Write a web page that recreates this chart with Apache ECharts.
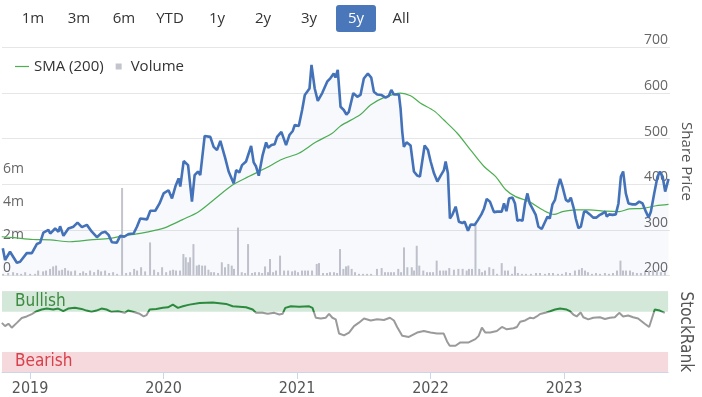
<!DOCTYPE html>
<html><head><meta charset="utf-8">
<script src="https://cdn.jsdelivr.net/npm/echarts@6/dist/echarts.min.js"></script>
<style>html,body{margin:0;padding:0;background:#fff}#c{width:702px;height:397px}</style>
</head><body><div id="c"></div><script>
// ---- data (x = decimal year) ----
const rangeButtons = ['1m','3m','6m','YTD','1y','2y','3y','5y','All'];
const selectedButton = '5y';
const yearTicks = [2019, 2020, 2021, 2022, 2023];
const xStart = 2018.79, xEnd = 2023.78;
const bullishLevel = 75, bearishLevel = 25;

const price = [[2018.796,260],[2018.813,234],[2018.850,252],[2018.901,228],[2018.925,230],[2018.975,249],[2019.013,249],[2019.050,269],[2019.075,272],[2019.099,294],[2019.137,300],[2019.150,292],[2019.187,303],[2019.212,296],[2019.224,308],[2019.249,287],[2019.286,303],[2019.324,307],[2019.354,316],[2019.387,306],[2019.424,311],[2019.461,296],[2019.499,284],[2019.536,294],[2019.561,296],[2019.586,289],[2019.611,273],[2019.648,272],[2019.673,287],[2019.703,285],[2019.735,291],[2019.773,292],[2019.798,307],[2019.823,325],[2019.873,323],[2019.898,342],[2019.935,342],[2019.967,358],[2019.997,380],[2020.010,384],[2020.034,387],[2020.060,369],[2020.085,395],[2020.109,413],[2020.122,395],[2020.147,451],[2020.180,442],[2020.209,362],[2020.229,420],[2020.254,428],[2020.271,420],[2020.304,506],[2020.346,504],[2020.371,482],[2020.396,475],[2020.421,495],[2020.458,457],[2020.483,428],[2020.521,402],[2020.539,431],[2020.563,426],[2020.583,442],[2020.613,450],[2020.651,484],[2020.670,448],[2020.688,439],[2020.708,419],[2020.737,464],[2020.763,492],[2020.778,480],[2020.803,486],[2020.827,488],[2020.845,504],[2020.877,515],[2020.912,486],[2020.937,508],[2020.962,517],[2020.977,530],[2021.007,528],[2021.032,563],[2021.052,596],[2021.087,610],[2021.102,662],[2021.126,610],[2021.149,583],[2021.182,600],[2021.219,625],[2021.244,633],[2021.268,643],[2021.281,634],[2021.298,651],[2021.319,570],[2021.343,563],[2021.363,553],[2021.381,559],[2021.414,600],[2021.444,592],[2021.468,596],[2021.493,632],[2021.523,643],[2021.548,634],[2021.568,603],[2021.593,597],[2021.623,596],[2021.655,590],[2021.680,594],[2021.698,607],[2021.717,597],[2021.755,597],[2021.767,567],[2021.780,515],[2021.792,482],[2021.812,492],[2021.842,485],[2021.867,428],[2021.892,419],[2021.912,417],[2021.947,485],[2021.972,475],[2021.992,450],[2022.017,424],[2022.042,406],[2022.067,419],[2022.091,431],[2022.104,450],[2022.121,424],[2022.136,325],[2022.154,333],[2022.179,351],[2022.203,318],[2022.229,315],[2022.246,318],[2022.271,298],[2022.291,312],[2022.321,311],[2022.346,322],[2022.371,334],[2022.391,347],[2022.411,368],[2022.435,362],[2022.465,339],[2022.491,340],[2022.523,340],[2022.540,358],[2022.558,341],[2022.577,369],[2022.603,371],[2022.622,358],[2022.640,320],[2022.657,322],[2022.678,320],[2022.697,358],[2022.715,380],[2022.732,358],[2022.752,347],[2022.777,333],[2022.797,307],[2022.822,302],[2022.847,318],[2022.865,329],[2022.882,325],[2022.902,356],[2022.921,366],[2022.939,391],[2022.959,412],[2022.977,395],[2023.002,366],[2023.022,362],[2023.039,371],[2023.064,344],[2023.076,325],[2023.096,304],[2023.114,307],[2023.138,340],[2023.156,340],[2023.181,334],[2023.206,327],[2023.231,327],[2023.256,333],[2023.276,336],[2023.296,340],[2023.308,329],[2023.325,334],[2023.351,333],[2023.375,334],[2023.395,358],[2023.413,417],[2023.430,428],[2023.450,380],[2023.470,358],[2023.500,356],[2023.525,356],[2023.550,362],[2023.575,358],[2023.600,340],[2023.620,327],[2023.637,340],[2023.662,380],[2023.687,417],[2023.705,428],[2023.725,417],[2023.744,384],[2023.769,412]];

const sma200 = [[2018.788,285],[2018.875,283],[2019.022,279],[2019.150,278],[2019.299,274],[2019.449,278],[2019.598,281.5],[2019.696,287],[2019.823,292.5],[2019.948,300],[2020.010,305],[2020.135,322],[2020.259,340],[2020.384,369],[2020.509,398],[2020.633,417],[2020.758,435],[2020.883,455],[2021.007,468],[2021.132,492],[2021.257,512],[2021.319,528],[2021.468,553],[2021.543,574],[2021.642,590],[2021.767,600],[2021.842,594],[2021.917,578],[2022.017,561],[2022.091,541],[2022.191,512],[2022.291,475],[2022.391,439],[2022.478,417],[2022.553,388],[2022.627,373],[2022.727,362],[2022.827,344],[2022.914,334],[2022.977,340],[2023.076,344],[2023.176,344],[2023.301,341],[2023.400,340],[2023.475,346],[2023.575,347],[2023.675,353],[2023.769,356]];

// volume in millions
const volume = [[2018.798,0.1],[2018.836,0.15],[2018.873,0.2],[2018.903,0.15],[2018.933,0.1],[2018.963,0.2],[2019.000,0.1],[2019.037,0.1],[2019.060,0.3],[2019.097,0.25],[2019.119,0.3],[2019.149,0.4],[2019.172,0.55],[2019.194,0.6],[2019.217,0.3],[2019.239,0.35],[2019.261,0.45],[2019.284,0.3],[2019.306,0.25],[2019.336,0.3],[2019.373,0.15],[2019.396,0.25],[2019.418,0.15],[2019.448,0.3],[2019.478,0.2],[2019.508,0.35],[2019.530,0.25],[2019.560,0.3],[2019.590,0.15],[2019.620,0.2],[2019.650,0.1],[2019.687,5.3],[2019.717,0.15],[2019.747,0.2],[2019.777,0.4],[2019.799,0.3],[2019.829,0.5],[2019.859,0.25],[2019.896,2.0],[2019.926,0.35],[2019.956,0.2],[2019.986,0.5],[2020.016,0.2],[2020.046,0.3],[2020.068,0.35],[2020.090,0.3],[2020.120,0.3],[2020.145,1.3],[2020.163,1.1],[2020.182,0.8],[2020.195,1.1],[2020.220,1.9],[2020.245,0.6],[2020.262,0.65],[2020.285,0.6],[2020.307,0.6],[2020.332,0.35],[2020.352,0.2],[2020.374,0.2],[2020.404,0.15],[2020.432,0.8],[2020.456,0.5],[2020.481,0.7],[2020.506,0.6],[2020.523,0.4],[2020.553,2.9],[2020.581,0.2],[2020.606,0.15],[2020.628,1.9],[2020.658,0.15],[2020.680,0.2],[2020.710,0.2],[2020.733,0.15],[2020.755,0.55],[2020.777,0.2],[2020.792,1.0],[2020.815,0.2],[2020.837,0.3],[2020.867,1.2],[2020.897,0.3],[2020.927,0.3],[2020.957,0.25],[2020.979,0.3],[2021.001,0.2],[2021.031,0.3],[2021.054,0.3],[2021.076,0.3],[2021.106,0.3],[2021.141,0.7],[2021.158,0.75],[2021.188,0.15],[2021.218,0.15],[2021.240,0.2],[2021.270,0.2],[2021.293,0.15],[2021.315,1.6],[2021.340,0.4],[2021.360,0.55],[2021.377,0.6],[2021.402,0.4],[2021.427,0.2],[2021.457,0.1],[2021.487,0.1],[2021.517,0.1],[2021.547,0.1],[2021.591,0.4],[2021.626,0.45],[2021.651,0.2],[2021.674,0.2],[2021.696,0.2],[2021.718,0.2],[2021.750,0.4],[2021.771,0.2],[2021.793,1.7],[2021.818,0.5],[2021.851,0.5],[2021.868,0.3],[2021.888,1.8],[2021.907,0.6],[2021.937,0.3],[2021.965,0.2],[2021.987,0.2],[2022.010,0.2],[2022.037,0.9],[2022.062,0.3],[2022.087,0.3],[2022.107,0.3],[2022.131,0.45],[2022.166,0.35],[2022.199,0.4],[2022.231,0.4],[2022.261,0.3],[2022.278,0.4],[2022.301,0.4],[2022.327,3.2],[2022.355,0.4],[2022.376,0.2],[2022.398,0.3],[2022.430,0.5],[2022.460,0.4],[2022.488,0.1],[2022.523,0.75],[2022.547,0.3],[2022.570,0.3],[2022.600,0.1],[2022.622,0.55],[2022.644,0.15],[2022.674,0.1],[2022.704,0.1],[2022.741,0.1],[2022.779,0.15],[2022.809,0.15],[2022.846,0.1],[2022.876,0.15],[2022.906,0.15],[2022.943,0.1],[2022.973,0.1],[2023.003,0.2],[2023.033,0.15],[2023.070,0.3],[2023.100,0.35],[2023.122,0.45],[2023.145,0.3],[2023.167,0.2],[2023.197,0.1],[2023.227,0.15],[2023.257,0.1],[2023.294,0.15],[2023.324,0.1],[2023.354,0.15],[2023.384,0.3],[2023.410,0.9],[2023.429,0.3],[2023.451,0.3],[2023.481,0.3],[2023.503,0.2],[2023.533,0.15],[2023.563,0.15],[2023.593,0.2],[2023.623,0.3],[2023.653,0.3],[2023.682,0.3],[2023.712,0.2],[2023.742,0.2]];

const stockRank = [[2018.789,61],[2018.813,57],[2018.838,60],[2018.863,55],[2018.901,61],[2018.938,67],[2018.975,69],[2019.013,72],[2019.050,75.5],[2019.087,77.6],[2019.125,78.8],[2019.174,77.6],[2019.211,78.8],[2019.249,75.5],[2019.286,78.8],[2019.336,79.7],[2019.386,78.4],[2019.423,76.3],[2019.461,74.8],[2019.498,76.3],[2019.535,78.8],[2019.573,77.6],[2019.610,74.8],[2019.659,75.5],[2019.709,73.5],[2019.734,76.3],[2019.771,74.8],[2019.821,72.3],[2019.851,69],[2019.872,70.6],[2019.896,77.6],[2019.946,78.4],[2019.995,79.7],[2020.033,80.4],[2020.070,83.7],[2020.108,79.7],[2020.145,81.6],[2020.195,83.7],[2020.270,85.8],[2020.369,86.2],[2020.469,84.6],[2020.518,81.6],[2020.618,80.4],[2020.668,77.6],[2020.693,73.5],[2020.742,73.5],[2020.780,72.3],[2020.830,73.5],[2020.867,71.4],[2020.892,72.3],[2020.912,79.7],[2020.954,81.6],[2021.016,81.2],[2021.091,81.6],[2021.116,79.7],[2021.141,67.4],[2021.178,66.6],[2021.216,67.4],[2021.240,72.3],[2021.265,67.4],[2021.290,65.4],[2021.315,47.8],[2021.352,45.5],[2021.390,49],[2021.427,57],[2021.464,61.3],[2021.502,66.5],[2021.552,64],[2021.601,65.4],[2021.651,64.6],[2021.696,67.4],[2021.726,64],[2021.750,55.9],[2021.788,44.9],[2021.838,43.6],[2021.900,49],[2021.950,51],[2022.000,49],[2022.049,47.8],[2022.099,47.8],[2022.124,38],[2022.144,32.6],[2022.187,32.6],[2022.224,36.8],[2022.286,36.8],[2022.336,40.8],[2022.361,44.9],[2022.385,55.1],[2022.411,49],[2022.448,49],[2022.497,51],[2022.535,56],[2022.572,53],[2022.622,54.3],[2022.647,55.9],[2022.672,62.5],[2022.709,64],[2022.747,67.4],[2022.771,66.6],[2022.796,69],[2022.821,72],[2022.859,73.5],[2022.896,75.5],[2022.933,77.6],[2022.971,78.8],[2023.020,77.6],[2023.045,75.5],[2023.070,71.4],[2023.095,69],[2023.125,74],[2023.145,68],[2023.182,65.4],[2023.219,67.4],[2023.269,68],[2023.307,65.8],[2023.344,67.4],[2023.381,68],[2023.414,73.5],[2023.443,69],[2023.481,70.2],[2023.518,68],[2023.555,66.5],[2023.605,60],[2023.638,55.9],[2023.680,77.6],[2023.718,76.3],[2023.755,73.5]];

// ---- chart ----
const NARROW = '"Liberation Sans Narrow","DejaVu Sans Condensed","Open Sans",sans-serif';
const MAIN = '"Open Sans","Noto Sans",sans-serif';
const chart = echarts.init(document.getElementById('c'), null, {renderer:'canvas'});

const rankGrid = {left:2, right:32, top:291.5, height:82};
const btnCenters = [33,79,124,170,217,263,309,356,401];
const graphics = [];
rangeButtons.forEach((b, i) => {
  const sel = b === selectedButton;
  if (sel) graphics.push({type:'rect', shape:{x:btnCenters[i]-20, y:5, width:40, height:27, r:3}, style:{fill:'#4a77b9'}});
  graphics.push({type:'text', x:btnCenters[i], y:19, style:{text:b, fill: sel ? '#ffffff' : '#333333', font:'15px ' + MAIN, align:'center', verticalAlign:'middle', textAlign:'center', textVerticalAlign:'middle'}});
});

// colour the StockRank line green above the bullish level (hard stop in a global gradient over the rank grid)
const cut = (100 - bullishLevel) / 100;
const rankColor = new echarts.graphic.LinearGradient(0, rankGrid.top, 0, rankGrid.top + rankGrid.height, [
  {offset:0, color:'#2b8a3e'}, {offset:cut, color:'#2b8a3e'},
  {offset:cut, color:'#9a9a9a'}, {offset:1, color:'#9a9a9a'}
], true);

chart.setOption({
  animation:false,
  textStyle:{fontFamily:MAIN},
  graphic:graphics,
  legend:{
    left:10, top:54, itemWidth:14, itemHeight:6, itemGap:12, selectedMode:false,
    textStyle:{color:'#333', fontSize:15, fontFamily:MAIN},
    data:[
      {name:'SMA (200)', icon:'path://M0,0H14V1.2H0Z'},
      {name:'Volume', icon:'path://M0,0H6V6H0Z'}
    ]
  },
  grid:[
    {left:2, right:32, top:47.5, height:228},
    rankGrid
  ],
  xAxis:[
    {type:'value', gridIndex:0, min:xStart, max:xEnd, show:false},
    {type:'value', gridIndex:1, min:xStart, max:xEnd,
     splitLine:{show:false},
     axisLine:{show:true, lineStyle:{color:'#ccd6eb'}},
     axisTick:{show:true, customValues:yearTicks, length:7, lineStyle:{color:'#ccd6eb'}},
     axisLabel:{customValues:yearTicks, formatter:v => String(Math.round(v)), color:'#555', fontSize:16, fontFamily:NARROW, margin:9}}
  ],
  yAxis:[
    {type:'value', gridIndex:0, position:'right', min:200, max:700, interval:100,
     axisLine:{show:false}, axisTick:{show:false},
     axisLabel:{inside:true, verticalAlign:'bottom', margin:2, color:'#666', fontSize:14},
     splitLine:{lineStyle:{color:'#e6e6e6'}},
     name:'Share Price', nameLocation:'middle', nameRotate:-90, nameGap:7,
     nameTextStyle:{color:'#555', fontSize:15}},
    {type:'value', gridIndex:0, position:'left', min:0, max:13.8, interval:2,
     axisLine:{show:false}, axisTick:{show:false}, splitLine:{show:false},
     axisLabel:{inside:true, verticalAlign:'bottom', margin:1, color:'#666', fontSize:14,
       formatter:v => v === 0 ? '0' : (v <= 6 ? v + 'm' : '')}},
    {type:'value', gridIndex:1, position:'right', min:0, max:100, interval:100,
     axisLine:{show:false}, axisTick:{show:false},
     splitLine:{show:true, lineStyle:{color:'#e6e6e6'}},
     axisLabel:{inside:true, verticalAlign:'bottom', margin:3, color:'#666', fontSize:14, formatter:v => v === 0 ? '0' : ''},
     name:'StockRank', nameLocation:'middle', nameRotate:-90, nameGap:8,
     nameTextStyle:{color:'#555', fontSize:17, fontFamily:NARROW}}
  ],
  series:[
    {name:'Volume', type:'bar', xAxisIndex:0, yAxisIndex:1, data:volume, barWidth:2,
     itemStyle:{color:'#c4c5cc'}, z:1, silent:true},
    {name:'Price', type:'line', xAxisIndex:0, yAxisIndex:0, data:price, symbol:'none',
     lineStyle:{color:'#4472b8', width:2.6}, itemStyle:{color:'#4472b8'},
     areaStyle:{color:'rgba(68,114,184,0.06)', origin:'start'}, z:3, silent:true},
    {name:'SMA (200)', type:'line', xAxisIndex:0, yAxisIndex:0, data:sma200, symbol:'none', smooth:0.3,
     lineStyle:{color:'#4caf50', width:1.2}, itemStyle:{color:'#4caf50'}, z:2, silent:true},
    {name:'StockRank', type:'line', xAxisIndex:1, yAxisIndex:2, data:stockRank, symbol:'none',
     lineStyle:{width:2, color:rankColor}, itemStyle:{color:'#9a9a9a'}, z:3, silent:true,
     markArea:{silent:true, data:[
       [{name:'Bullish', yAxis:bullishLevel, itemStyle:{color:'#d4e8d9'},
         label:{show:true, position:'insideLeft', distance:13, color:'#3d8b40', fontSize:17, fontFamily:NARROW}},
        {yAxis:100}],
       [{name:'Bearish', yAxis:0, itemStyle:{color:'#f5d9dc'},
         label:{show:true, position:'insideLeft', distance:13, color:'#d9404b', fontSize:17, fontFamily:NARROW}},
        {yAxis:bearishLevel}]
     ]}}
  ]
});
</script></body></html>
